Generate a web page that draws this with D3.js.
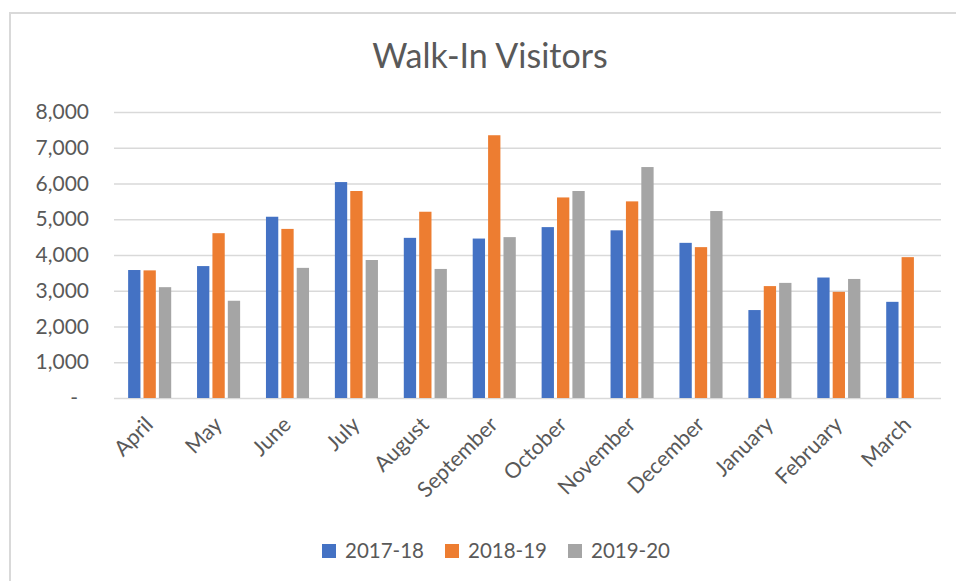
<!DOCTYPE html>
<html>
<head>
<meta charset="utf-8">
<script src="https://cdn.jsdelivr.net/npm/d3@7"></script>
<style>
  body { margin: 0; background: #fff; }
  text { font-family: Lato, "Open Sans", sans-serif; fill: #595959; }
</style>
</head>
<body>
<div id="chart"></div>
<script>
// data
var months = ["April", "May", "June", "July", "August", "September",
              "October", "November", "December", "January", "February", "March"];
var seriesNames = ["2017-18", "2018-19", "2019-20"];
var v2017 = [3580, 3690, 5070, 6040, 4480, 4460, 4780, 4690, 4340, 2460, 3370, 2690];
var v2018 = [3570, 4610, 4730, 5790, 5210, 7350, 5610, 5500, 4220, 3130, 2970, 3940];
var v2019 = [3100, 2720, 3640, 3860, 3610, 4500, 5790, 6460, 5230, 3220, 3330, null];
var yTicks = [0, 1000, 2000, 3000, 4000, 5000, 6000, 7000, 8000];
var colors = ["#4472C4", "#ED7D31", "#A5A5A5"];

var W = 956, H = 581;
var plot = {left: 114, right: 941, top: 112, bottom: 398};

var svg = d3.select("#chart")
  .append("svg")
    .attr("width", W)
    .attr("height", H);

// chart area border (only left/top visible in frame)
svg.append("rect")
  .attr("x", 10).attr("y", 13)
  .attr("width", W + 20).attr("height", H + 20)
  .style("fill", "none")
  .style("stroke", "#d9d9d9")
  .style("stroke-width", 2);

// title
svg.append("text")
  .attr("x", 490)
  .attr("y", 68)
  .attr("text-anchor", "middle")
  .style("font-size", "34px")
  .text("Walk-In Visitors");

var x0 = d3.scaleBand()
  .domain(months)
  .range([plot.left, plot.right])
  .padding(0);

var x1 = d3.scaleBand()
  .domain(seriesNames)
  .range([x0.bandwidth() * 0.205, x0.bandwidth() * 0.83])
  .paddingInner(0.2);

var y = d3.scaleLinear()
  .domain([0, 8000])
  .range([plot.bottom, plot.top]);

// gridlines + y labels
var yAxis = svg.append("g")
  .attr("transform", "translate(" + plot.left + ",0)")
  .call(d3.axisLeft(y)
    .tickValues(yTicks)
    .tickSize(-(plot.right - plot.left))
    .tickPadding(25)
    .tickFormat(function(d) { return d === 0 ? "-" : d3.format(",")(d); }));
yAxis.select(".domain").remove();
yAxis.selectAll(".tick line")
  .attr("stroke", "#d9d9d9")
  .attr("stroke-width", 1.4);
yAxis.selectAll(".tick text")
  .style("font-size", "21px")
  .attr("fill", "#595959")
  .style("font-family", "Lato, 'Open Sans', sans-serif");
yAxis.selectAll(".tick text")
  .filter(function(d) { return d === 0; })
  .attr("x", -36);

// bars
var allSeries = [v2017, v2018, v2019];
var groups = svg.append("g")
  .selectAll("g")
  .data(months)
  .enter()
  .append("g")
    .attr("transform", function(d) { return "translate(" + x0(d) + ",0)"; });

groups.selectAll("rect")
  .data(function(m, i) {
    return seriesNames.map(function(s, k) { return {key: s, k: k, value: allSeries[k][i]}; })
      .filter(function(d) { return d.value != null; });
  })
  .enter()
  .append("rect")
    .attr("x", function(d) { return x1(d.key); })
    .attr("y", function(d) { return y(d.value); })
    .attr("width", x1.bandwidth())
    .attr("height", function(d) { return y(0) - y(d.value); })
    .style("fill", function(d) { return colors[d.k]; });

// x labels, rotated
svg.append("g")
  .selectAll("text")
  .data(months)
  .enter()
  .append("text")
    .attr("text-anchor", "end")
    .attr("transform", function(d) {
      return "translate(" + (x0(d) + x0.bandwidth() / 2 + 6) + "," + (plot.bottom + 28) + ") rotate(-45)";
    })
    .style("font-size", "21.5px")
    .text(function(d) { return d; });

// legend
var legendX = [322, 445, 568];
var legend = svg.append("g")
  .selectAll("g")
  .data(seriesNames)
  .enter()
  .append("g")
    .attr("transform", function(d, i) { return "translate(" + legendX[i] + ",544)"; });
legend.append("rect")
  .attr("width", 14).attr("height", 14)
  .style("fill", function(d, i) { return colors[i]; });
legend.append("text")
  .attr("x", 23)
  .attr("y", 14)
  .style("font-size", "20.5px")
  .text(function(d) { return d; });
</script>
</body>
</html>
